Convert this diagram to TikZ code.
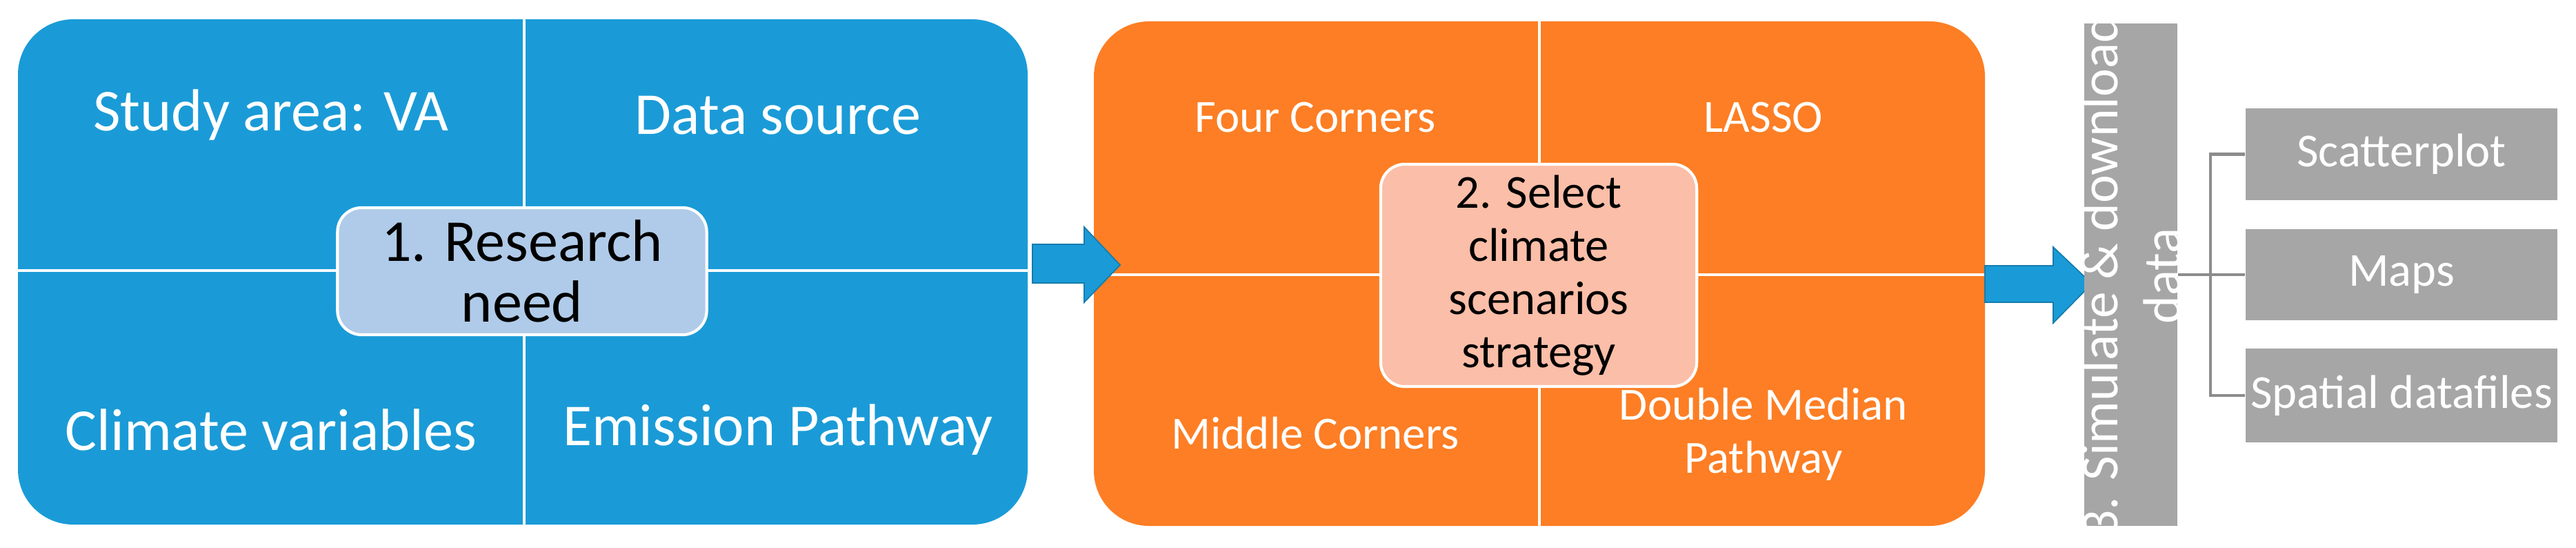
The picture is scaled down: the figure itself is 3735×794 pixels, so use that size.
\documentclass[tikz,border=0pt]{standalone}
\usepackage{fontspec}
\setmainfont{Carlito}
\begin{document}
\begin{tikzpicture}[x=0.01cm,y=-0.01cm,
  big/.style={text=white,font=\fontsize{24.5}{28}\selectfont},
  mid/.style={text=white,font=\fontsize{19}{22}\selectfont,align=center},
  ctr/.style={draw=white,line width=1.2pt,rounded corners=0.35cm,align=center,text=black},
  gbox/.style={fill=gray66,minimum width=452\pgflinewidth,text=white,font=\fontsize{19.5}{22}\selectfont},
  conn/.style={draw=gray50,line width=1.3pt}]
\definecolor{blu}{HTML}{1A9BD7}
\definecolor{lblu}{HTML}{B0CBE9}
\definecolor{org}{HTML}{FD7E24}
\definecolor{sal}{HTML}{FBBEA8}
\definecolor{gray66}{HTML}{A6A6A6}
\definecolor{gray50}{HTML}{8C8C8C}
\useasboundingbox (0,0) rectangle (3735,794);
% blue panel
\fill[blu,rounded corners=0.8cm] (26,28) rectangle (1490,760);
\draw[white,line width=1.2pt] (760,28) -- (760,760) (26,392) -- (1490,392);
\node[big] (sa) at (393,167) {Study area: VA};
\node[big] (ds) at (1128,167) {Data source};
\node[big] (cv) at (393,623) {Climate variables};
\node[big] (ep) at (1128,623) {Emission Pathway};
\node[ctr,fill=lblu,minimum width=5.35cm,minimum height=1.84cm,font=\fontsize{24.5}{25}\selectfont] (c1) at (757,393) {1. Research\\need};
% orange panel
\fill[org,rounded corners=0.8cm] (1586,31) rectangle (2878,762);
\draw[white,line width=1.2pt] (2232,31) -- (2232,762) (1586,398) -- (2878,398);
\node[mid] (fc) at (1907,170) {Four Corners};
\node[mid] (la) at (2557,170) {LASSO};
\node[mid] (mc) at (1907,628) {Middle Corners};
\node[mid] (dm) at (2557,629) {Double Median\\Pathway};
\node[ctr,fill=sal,minimum width=4.58cm,minimum height=3.22cm,font=\fontsize{19.5}{21.9}\selectfont] (c2) at (2231,399) {2. Select\\climate\\scenarios\\strategy};
% arrows
\fill[blu,draw=blu!80!black,line width=0.5pt] (1497,354) -- (1572,354) -- (1572,329) -- (1624,384) -- (1572,438) -- (1572,410) -- (1497,410) -- cycle;
\fill[blu,draw=blu!80!black,line width=0.5pt] (2878,385) -- (2977,385) -- (2977,358) -- (3033,411) -- (2977,468) -- (2977,438) -- (2878,438) -- cycle;
% gray bar
\node[fill=gray66,minimum width=1.35cm,minimum height=7.28cm,inner sep=0pt] (bar) at (3089.5,398) {};
\node[rotate=90,text=white,align=center,font=\fontsize{22}{26}\selectfont] (bt) at (3089.5,400) {3. Simulate \& download\\data};
\node[fill=gray66,minimum width=4.52cm,minimum height=1.33cm,inner sep=0pt,text=white,font=\fontsize{19.5}{22}\selectfont] (b1) at (3482,223.5) {Scatterplot};
\node[fill=gray66,minimum width=4.52cm,minimum height=1.32cm,inner sep=0pt,text=white,font=\fontsize{19.5}{22}\selectfont] (b2) at (3482,398) {Maps};
\node[fill=gray66,minimum width=4.52cm,minimum height=1.36cm,inner sep=0pt,text=white,font=\fontsize{19.5}{22}\selectfont] (b3) at (3482,573) {Spatial datafiles};
\coordinate (j) at (3205,398);
\draw[conn] (bar.east) -- (b2.west);
\draw[conn] (b1.west) -- (j |- b1.west) -- (j |- b3.west) -- (b3.west);
\end{tikzpicture}
\end{document}
